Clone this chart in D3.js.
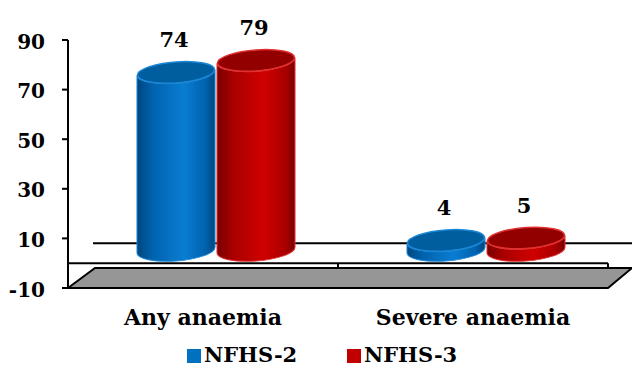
<!DOCTYPE html>
<html>
<head>
<meta charset="utf-8">
<script src="https://cdn.jsdelivr.net/npm/d3@7"></script>
<style>
  body { margin: 0; background: #fff; }
  text { font-family: "DejaVu Serif", serif; font-weight: bold; fill: #000; }
</style>
</head>
<body>
<script>
var width = 632;
var height = 367;

// data
var categories = ["Any anaemia", "Severe anaemia"];
var series = ["NFHS-2", "NFHS-3"];
var nfhs2 = [74, 4];
var nfhs3 = [79, 5];
var yTicks = [-10, 10, 30, 50, 70, 90];

var colors = {
  "NFHS-2": { dark: "#00467e", mid: "#0062ad", light: "#0a7dd2", top: "#005e9f", rim: "#1a86d6", legend: "#0070c0" },
  "NFHS-3": { dark: "#7a0000", mid: "#a80000", light: "#d00000", top: "#920000", rim: "#e03030", legend: "#c00000" }
};

var rows = categories.map(function(c, i) {
  return { cat: c, vals: [{ s: series[0], v: nfhs2[i] }, { s: series[1], v: nfhs3[i] }] };
});

var svg = d3.select("body")
            .append("svg")
            .attr("width", width)
            .attr("height", height);

// axis scale and 3d offsets
var y = d3.scaleLinear().domain([-10, 90]).range([288, 40]);
var x0 = d3.scaleBand().domain(categories).range([68, 608]);
// offset of the cylinders inside each category band
var x1 = d3.scaleBand().domain(series).range([68, 228]);
// bars sit half way into the floor depth
var yBar = d3.scaleLinear().domain([0, 90]).range([250, 34]);
var depthX = 27, depthY = 20;
var rx = x1.bandwidth() / 2 - 1, ry = 11;

var defs = svg.append("defs");
series.forEach(function(s, i) {
  var c = colors[s];
  var g = defs.append("linearGradient").attr("id", "body" + i)
              .attr("x1", 0).attr("x2", 1).attr("y1", 0).attr("y2", 0);
  g.append("stop").attr("offset", 0).attr("stop-color", c.dark);
  g.append("stop").attr("offset", 0.2).attr("stop-color", c.mid);
  g.append("stop").attr("offset", 0.6).attr("stop-color", c.light);
  g.append("stop").attr("offset", 0.88).attr("stop-color", c.mid);
  g.append("stop").attr("offset", 1).attr("stop-color", c.dark);
});

// back line
svg.append("line")
   .attr("x1", 68 + depthX - 2).attr("x2", width)
   .attr("y1", y(0) - depthY).attr("y2", y(0) - depthY)
   .attr("stroke", "#000").attr("stroke-width", 2);

// floor
svg.append("path")
   .attr("d", "M68," + y(-10) + "L" + (68 + depthX) + "," + (y(-10) - depthY) +
              "L" + (608 + 24) + "," + (y(-10) - depthY) + "L608," + y(-10) + "Z")
   .attr("fill", "#969696").attr("stroke", "#000").attr("stroke-width", 2);

svg.append("line")
   .attr("x1", 68).attr("x2", 608)
   .attr("y1", y(0)).attr("y2", y(0))
   .attr("stroke", "#000").attr("stroke-width", 2);

[x0.range()[0] + x0.bandwidth(), 608].forEach(function(px) {
  svg.append("line")
     .attr("x1", px).attr("x2", px)
     .attr("y1", y(0)).attr("y2", y(0) + 5)
     .attr("stroke", "#000").attr("stroke-width", 2);
});

// y axis
svg.append("line")
   .attr("x1", 68).attr("x2", 68)
   .attr("y1", y(90)).attr("y2", y(-10))
   .attr("stroke", "#000").attr("stroke-width", 2);

yTicks.forEach(function(t) {
  svg.append("line")
     .attr("x1", 62).attr("x2", 68)
     .attr("y1", y(t)).attr("y2", y(t))
     .attr("stroke", "#000").attr("stroke-width", 2);
  svg.append("text")
     .attr("x", 45).attr("y", y(t) + 3)
     .attr("text-anchor", "end")
     .attr("dominant-baseline", "middle")
     .attr("font-size", "20px")
     .text(t);
});

// cylinders
function cylPath(cx, top, base) {
  return "M" + (cx - rx) + "," + top +
         "L" + (cx - rx) + "," + base +
         "A" + rx + "," + ry + " 0 0 0 " + (cx + rx) + "," + base +
         "L" + (cx + rx) + "," + top +
         "A" + rx + "," + ry + " 0 0 1 " + (cx - rx) + "," + top + "Z";
}

rows.forEach(function(r) {
  r.vals.forEach(function(d, i) {
    var c = colors[d.s];
    var cx = x0(r.cat) + x1(d.s) + x1.bandwidth() / 2;
    var top = yBar(d.v), base = yBar(0);
    var g = svg.append("g")
               .attr("transform", "translate(" + cx + ",0) skewY(-4) translate(" + (-cx) + ",0)");
    g.append("path")
     .attr("d", cylPath(cx, top, base))
     .attr("fill", "url(#body" + i + ")")
     .attr("stroke", c.rim).attr("stroke-width", 1);
    g.append("ellipse")
     .attr("cx", cx).attr("cy", top)
     .attr("rx", rx - 0.5).attr("ry", ry - 0.5)
     .attr("fill", c.top)
     .attr("stroke", c.rim).attr("stroke-width", 1.5);
    svg.append("text")
       .attr("x", cx - 2).attr("y", top - 25)
       .attr("text-anchor", "middle")
       .attr("font-size", "21px")
       .text(d.v);
  });
});

// category labels
categories.forEach(function(c) {
  svg.append("text")
     .attr("x", x0(c) + x0.bandwidth() / 2).attr("y", 325)
     .attr("text-anchor", "middle")
     .attr("font-size", "22px")
     .text(c);
});

// legend
var legendX = [187, 347];
series.forEach(function(s, i) {
  svg.append("rect")
     .attr("x", legendX[i]).attr("y", 349)
     .attr("width", 14).attr("height", 14)
     .attr("fill", colors[s].legend);
  svg.append("text")
     .attr("x", legendX[i] + 17).attr("y", 362)
     .attr("font-size", "21px")
     .text(s);
});
</script>
</body>
</html>
